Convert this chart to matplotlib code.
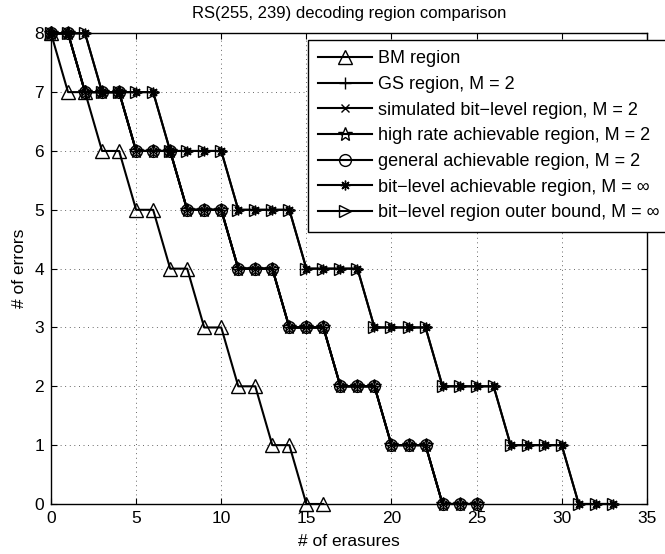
import matplotlib
matplotlib.use("Agg")
import matplotlib.pyplot as plt

plt.rcParams['font.family'] = ['Liberation Sans', 'DejaVu Sans']

# Data
bm_erasures = [0, 1, 2, 3, 4, 5, 6, 7, 8, 9, 10, 11, 12, 13, 14, 15, 16]
bm_errors = [8, 7, 7, 6, 6, 5, 5, 4, 4, 3, 3, 2, 2, 1, 1, 0, 0]

m2_erasures = [0, 1, 2, 3, 4, 5, 6, 7, 8, 9, 10, 11, 12, 13, 14, 15, 16, 17, 18, 19, 20, 21, 22, 23, 24, 25]
m2_errors = [8, 8, 7, 7, 7, 6, 6, 6, 5, 5, 5, 4, 4, 4, 3, 3, 3, 2, 2, 2, 1, 1, 1, 0, 0, 0]

inf_erasures = [0, 1, 2, 3, 4, 5, 6, 7, 8, 9, 10, 11, 12, 13, 14, 15, 16, 17, 18, 19, 20, 21, 22, 23, 24, 25,
                26, 27, 28, 29, 30, 31, 32, 33]
inf_errors = [8, 8, 8, 7, 7, 7, 7, 6, 6, 6, 6, 5, 5, 5, 5, 4, 4, 4, 4, 3, 3, 3, 3, 2, 2, 2, 2, 1, 1, 1, 1, 0, 0, 0]

labels = ["BM region",
          "GS region, M = 2",
          "simulated bit\u2212level region, M = 2",
          "high rate achievable region, M = 2",
          "general achievable region, M = 2",
          "bit\u2212level achievable region, M = \u221e",
          "bit\u2212level region outer bound, M = \u221e"]

fig = plt.figure(figsize=(6.65, 5.54), dpi=100)
ax = fig.add_axes([0.0767, 0.0903, 0.896, 0.8496])

series = [
    (bm_erasures, bm_errors, '^', 10),
    (m2_erasures, m2_errors, '+', 9),
    (m2_erasures, m2_errors, 'x', 6),
    (m2_erasures, m2_errors, '*', 10),
    (m2_erasures, m2_errors, 'o', 8.5),
    (inf_erasures, inf_errors, (8, 2, 0), 7),
    (inf_erasures, inf_errors, '>', 8.5),
]
for (xs, ys, mk, ms), lab in zip(series, labels):
    ax.plot(xs, ys, color='black', lw=1.5, marker=mk, markersize=ms,
            markerfacecolor='none', markeredgecolor='black', markeredgewidth=1.0,
            label=lab, clip_on=False)

ax.set_xlim(0, 35)
ax.set_ylim(0, 8)
ax.set_xticks(range(0, 36, 5))
ax.set_yticks(range(0, 9))
ax.grid(True, linestyle=(0, (1, 4.5)), color='#333333', linewidth=0.6)
ax.tick_params(direction='in', top=True, right=True, labelsize=12.5, length=4, width=0.8, pad=5)
for sp in ax.spines.values():
    sp.set_linewidth(1.0)

ax.set_xlabel("# of erasures", fontsize=12.5, labelpad=6)
ax.set_ylabel("# of errors", fontsize=12.5, labelpad=5)
ax.set_title("RS(255, 239) decoding region comparison", fontsize=12, pad=11)

leg = ax.legend(loc='upper left', bbox_to_anchor=(0.431, 0.986), fontsize=13,
                handlelength=3.0, labelspacing=0.48, borderpad=0.58, handletextpad=0.3,
                fancybox=False, framealpha=1, edgecolor='black', borderaxespad=0)
leg.get_frame().set_linewidth(1.0)

fig.savefig("out.png", dpi=100)
